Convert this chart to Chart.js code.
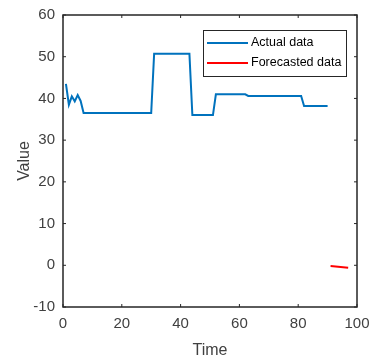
<!DOCTYPE html>
<html>
<head>
<meta charset="utf-8">
<script src="https://cdn.jsdelivr.net/npm/chart.js@4"></script>
<style>
    html, body { margin: 0; padding: 0; background: #fff; }
    #wrap { width: 371px; height: 360px; }
</style>
</head>
<body>
<div id="wrap"><canvas id="forecastChart"></canvas></div>
<script>
// values
const actualTime = [1, 2, 3, 4, 5, 6, 7, 30, 31, 43, 44, 51, 52, 62, 63, 81, 82, 90];
const actualValue = [43.5, 38.5, 40.5, 39.3, 40.8, 39.4, 36.5, 36.5, 50.7, 50.7, 36, 36, 41, 41, 40.6, 40.6, 38.2, 38.2];
const forecastTime = [91, 97];
const forecastValue = [-0.2, -0.6];
const xTicks = [0, 20, 40, 60, 80, 100];
const yTicks = [-10, 0, 10, 20, 30, 40, 50, 60];

const axisColor = '#262626';
const fontFamily = '"Liberation Sans", Arial, sans-serif';

const toPoints = (xs, ys) => xs.map((x, i) => ({x: x, y: ys[i]}));

// matlab style box with inward ticks, plus the legend
const boxPlugin = {
    id: 'boxPlugin',
    afterDraw(chart) {
        const {ctx, chartArea: a, scales} = chart;
        ctx.save();
        ctx.strokeStyle = axisColor;
        ctx.lineWidth = 1.5;
        ctx.strokeRect(a.left, a.top, a.right - a.left, a.bottom - a.top);
        ctx.lineWidth = 1;
        const len = 3;
        ctx.beginPath();
        xTicks.forEach(v => {
            const px = scales.x.getPixelForValue(v);
            ctx.moveTo(px, a.bottom);
            ctx.lineTo(px, a.bottom - len);
            ctx.moveTo(px, a.top);
            ctx.lineTo(px, a.top + len);
        });
        yTicks.forEach(v => {
            const py = scales.y.getPixelForValue(v);
            ctx.moveTo(a.left, py);
            ctx.lineTo(a.left + len, py);
            ctx.moveTo(a.right, py);
            ctx.lineTo(a.right - len, py);
        });
        ctx.stroke();

        // legend box
        const bx = 203.5, by = 30.5, bw = 143, bh = 46;
        ctx.fillStyle = '#fff';
        ctx.fillRect(bx, by, bw, bh);
        ctx.strokeStyle = axisColor;
        ctx.strokeRect(bx, by, bw, bh);
        ctx.font = '12.5px ' + fontFamily;
        ctx.textBaseline = 'middle';
        chart.data.datasets.forEach((ds, i) => {
            const y = 43 + i * 20;
            ctx.strokeStyle = ds.borderColor;
            ctx.lineWidth = 2;
            ctx.beginPath();
            ctx.moveTo(207, y);
            ctx.lineTo(248, y);
            ctx.stroke();
            ctx.fillStyle = '#000';
            ctx.fillText(ds.label, 251, y);
        });
        ctx.restore();
    }
};

new Chart(document.getElementById('forecastChart'), {
    type: 'scatter',
    data: {
        datasets: [{
                label: 'Actual data',
                data: toPoints(actualTime, actualValue),
                showLine: true,
                borderColor: '#0072BD',
                borderWidth: 2,
                pointRadius: 0,
                tension: 0
            }, {
                label: 'Forecasted data',
                data: toPoints(forecastTime, forecastValue),
                showLine: true,
                borderColor: '#FF0000',
                borderWidth: 2,
                pointRadius: 0,
                tension: 0
            }]
    },
    options: {
        responsive: true,
        maintainAspectRatio: false,
        animation: false,
        layout: {
            padding: {top: 15, right: 14, left: 0, bottom: 0}
        },
        plugins: {
            legend: {display: false},
            tooltip: {enabled: false}
        },
        scales: {
            x: {
                type: 'linear',
                min: 0,
                max: 100,
                afterBuildTicks: (scale) => {
                    scale.ticks = xTicks.map(v => ({value: v}));
                },
                afterFit: (scale) => {
                    scale.height = 53;
                },
                grid: {display: false},
                border: {display: false},
                ticks: {
                    color: '#404040',
                    padding: 0,
                    maxRotation: 0,
                    font: {family: fontFamily, size: 15}
                },
                title: {
                    display: true,
                    text: 'Time',
                    color: '#404040',
                    padding: {top: 0, bottom: 0},
                    font: {family: fontFamily, size: 16}
                }
            },
            y: {
                type: 'linear',
                min: -10,
                max: 60,
                afterBuildTicks: (scale) => {
                    scale.ticks = yTicks.map(v => ({value: v}));
                },
                afterFit: (scale) => {
                    scale.width = 63;
                },
                grid: {display: false},
                border: {display: false},
                ticks: {
                    color: '#404040',
                    padding: 0,
                    font: {family: fontFamily, size: 15}
                },
                title: {
                    display: true,
                    text: 'Value',
                    color: '#404040',
                    padding: {top: 15, bottom: 0},
                    font: {family: fontFamily, size: 16}
                }
            }
        }
    },
    plugins: [boxPlugin]
});
</script>
</body>
</html>
